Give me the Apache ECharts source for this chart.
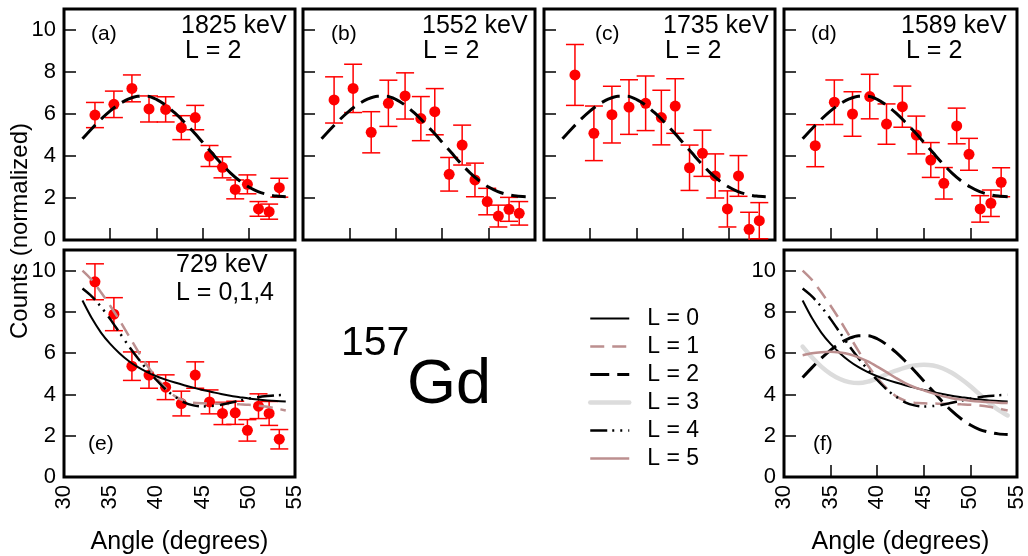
<!DOCTYPE html>
<html><head><meta charset="utf-8">
<script src="https://cdn.jsdelivr.net/npm/echarts@6/dist/echarts.min.js"></script>
<style>html,body{margin:0;padding:0;background:#fff}#c{width:1028px;height:556px}</style>
</head><body><div id="c"></div>
<script>
// ---- data ----
const angles = [33.35, 35.4, 37.35, 39.2, 41.0, 42.7, 44.2, 45.75, 47.15, 48.53, 49.85, 51.05, 52.2, 53.3];

const valsA = [5.95, 6.46, 7.22, 6.24, 6.22, 5.35, 5.83, 4.0, 3.46, 2.41, 2.65, 1.48, 1.35, 2.49];
const errsA = [0.6, 0.63, 0.64, 0.62, 0.6, 0.57, 0.58, 0.5, 0.5, 0.45, 0.45, 0.35, 0.36, 0.45];
const valsB = [6.67, 7.22, 5.13, 6.51, 6.86, 5.78, 6.11, 3.13, 4.52, 2.86, 1.83, 1.14, 1.46, 1.27];
const errsB = [1.1, 1.15, 0.98, 1.1, 1.1, 1.05, 1.1, 0.8, 0.95, 0.8, 0.63, 0.52, 0.57, 0.56];
const valsC = [7.86, 5.08, 5.97, 6.33, 6.51, 5.83, 6.38, 3.44, 4.13, 3.05, 1.48, 3.05, 0.51, 0.92];
const errsC = [1.45, 1.3, 1.35, 1.3, 1.3, 1.3, 1.3, 1.08, 1.1, 1.05, 0.86, 0.97, 0.81, 0.86];
const valsD = [4.49, 6.56, 6.0, 6.83, 5.52, 6.35, 5.0, 3.81, 2.7, 5.43, 4.08, 1.48, 1.75, 2.75];
const errsD = [1.0, 1.06, 1.06, 1.06, 0.96, 0.98, 0.9, 0.83, 0.75, 0.85, 0.76, 0.63, 0.63, 0.69];
const valsE = [9.46, 7.89, 5.37, 4.94, 4.35, 3.56, 4.94, 3.64, 3.08, 3.11, 2.26, 3.43, 3.08, 1.83];
const errsE = [0.87, 0.8, 0.69, 0.64, 0.6, 0.6, 0.64, 0.58, 0.54, 0.56, 0.52, 0.6, 0.58, 0.47];

// fitted angular-distribution curves, read at each degree
const fitAngles = [32, 33, 34, 35, 36, 37, 38, 39, 40, 41, 42, 43, 44, 45, 46, 47, 48, 49, 50, 51, 52, 53, 54];
const fitL0 = [8.55, 7.7, 7.0, 6.45, 6.0, 5.62, 5.32, 5.08, 4.88, 4.72, 4.58, 4.45, 4.33, 4.22, 4.12, 4.02, 3.94, 3.87, 3.8, 3.75, 3.71, 3.68, 3.66];
const fitL1 = [10.0, 9.55, 8.95, 8.3, 7.6, 6.85, 6.1, 5.4, 4.8, 4.3, 3.92, 3.7, 3.6, 3.57, 3.56, 3.55, 3.54, 3.52, 3.5, 3.46, 3.4, 3.32, 3.22];
const fitL2 = [4.82, 5.3, 5.75, 6.15, 6.48, 6.72, 6.85, 6.85, 6.7, 6.42, 6.05, 5.62, 5.15, 4.65, 4.15, 3.65, 3.2, 2.82, 2.52, 2.3, 2.17, 2.09, 2.06];
const fitL3 = [6.32, 5.8, 5.35, 5.0, 4.75, 4.6, 4.55, 4.62, 4.78, 4.98, 5.15, 5.3, 5.4, 5.44, 5.4, 5.27, 5.05, 4.75, 4.4, 4.0, 3.6, 3.25, 2.98];
const fitL4 = [9.13, 8.75, 8.25, 7.65, 7.0, 6.35, 5.75, 5.2, 4.7, 4.25, 3.9, 3.62, 3.47, 3.42, 3.44, 3.5, 3.6, 3.7, 3.8, 3.87, 3.92, 3.96, 3.98];
const fitL5 = [5.9, 6.0, 6.05, 6.07, 6.03, 5.95, 5.8, 5.6, 5.35, 5.08, 4.8, 4.55, 4.35, 4.2, 4.05, 3.92, 3.82, 3.75, 3.7, 3.66, 3.63, 3.6, 3.58];

const yTicks = [0, 2, 4, 6, 8, 10];
const xTicks = [30, 35, 40, 45, 50, 55];
const legendNames = ['L = 0', 'L = 1', 'L = 2', 'L = 3', 'L = 4', 'L = 5'];

// ---- layout & styles ----
const FONT = 'Liberation Sans, Arial, Helvetica, sans-serif';
const grids = [
  {left: 64, top: 9, width: 231, height: 231},
  {left: 303, top: 9, width: 232, height: 231},
  {left: 544, top: 9, width: 231, height: 231},
  {left: 784, top: 9, width: 233, height: 231},
  {left: 64, top: 250, width: 231, height: 230},
  {left: 784, top: 250, width: 233, height: 231}
].map(g => Object.assign({show: true, borderColor: '#000', borderWidth: 3, backgroundColor: 'transparent'}, g));

const ROSY = '#bc8f8f';
const curveStyle = {
  'L = 0': {color: '#000', width: 2, type: 'solid'},
  'L = 1': {color: ROSY, width: 2.5, type: [14, 8]},
  'L = 2': {color: '#000', width: 3, type: [19, 8]},
  'L = 3': {color: '#dcdcdc', width: 4.5, type: 'solid', cap: 'round'},
  'L = 4': {color: '#000', width: 2.5, type: [17, 5, 2, 6, 2, 6]},
  'L = 5': {color: ROSY, width: 2.5, type: 'solid'}
};
const curveData = {'L = 0': fitL0, 'L = 1': fitL1, 'L = 2': fitL2, 'L = 3': fitL3, 'L = 4': fitL4, 'L = 5': fitL5};

function xAxisFor(i, labels, ticks) {
  return {
    type: 'value', gridIndex: i, min: xTicks[0], max: xTicks[xTicks.length - 1], interval: 5,
    axisLine: {show: false}, splitLine: {show: false},
    axisTick: {show: ticks, inside: true, length: 12, lineStyle: {color: '#000', width: 1.5}},
    axisLabel: {show: labels, rotate: 90, margin: 8, fontSize: 22, color: '#000', fontFamily: FONT},
    name: labels ? 'Angle (degrees)' : '', nameLocation: 'middle', nameGap: 53,
    nameTextStyle: {fontSize: 25, color: '#000', fontFamily: FONT}
  };
}
function yAxisFor(i, labels) {
  return {
    type: 'value', gridIndex: i, min: 0, max: 11, interval: 2,
    axisLine: {show: false}, splitLine: {show: false},
    axisTick: {show: true, inside: true, length: 12, lineStyle: {color: '#000', width: 1.5}},
    axisLabel: {show: labels, margin: 8, fontSize: 22, color: '#000', fontFamily: FONT,
      formatter: v => (yTicks.indexOf(v) >= 0 ? String(v) : '')}
  };
}

const xAxes = [0, 1, 2, 3].map(i => xAxisFor(i, false, true)).concat([xAxisFor(4, true, false), xAxisFor(5, true, true)]);
const yAxes = [yAxisFor(0, true), yAxisFor(1, false), yAxisFor(2, false), yAxisFor(3, false), yAxisFor(4, true), yAxisFor(5, true)];

function errRender(params, api) {
  const x = api.value(0), y = api.value(1), e = api.value(2);
  const t = api.coord([x, y + e]), b = api.coord([x, y - e]);
  const hw = 9, st = {stroke: '#ff0000', lineWidth: 1.5};
  return {type: 'group', children: [
    {type: 'line', shape: {x1: t[0], y1: t[1], x2: b[0], y2: b[1]}, style: st},
    {type: 'line', shape: {x1: t[0] - hw, y1: t[1], x2: t[0] + hw, y2: t[1]}, style: st},
    {type: 'line', shape: {x1: b[0] - hw, y1: b[1], x2: b[0] + hw, y2: b[1]}, style: st}
  ]};
}

const series = [];
function addPoints(i, vals, errs) {
  series.push({type: 'custom', xAxisIndex: i, yAxisIndex: i, clip: true, z: 3,
    renderItem: errRender, encode: {x: 0, y: 1},
    data: angles.map((a, k) => [a, vals[k], errs[k]])});
  series.push({type: 'scatter', xAxisIndex: i, yAxisIndex: i, z: 4, symbol: 'circle', symbolSize: 11,
    itemStyle: {color: '#ff0000', opacity: 1}, data: angles.map((a, k) => [a, vals[k]])});
}
function addCurve(i, name) {
  const s = curveStyle[name];
  series.push({type: 'line', name: name, xAxisIndex: i, yAxisIndex: i, smooth: 0.3, symbol: 'none',
    z: name === 'L = 3' ? 2 : 5, clip: true,
    lineStyle: {color: s.color, width: s.width, type: s.type, cap: s.cap || 'butt'},
    itemStyle: {color: s.color},
    data: fitAngles.map((a, k) => [a, curveData[name][k]])});
}
const panelData = [[valsA, errsA], [valsB, errsB], [valsC, errsC], [valsD, errsD]];
panelData.forEach((p, i) => { addPoints(i, p[0], p[1]); addCurve(i, 'L = 2'); });
addPoints(4, valsE, errsE);
['L = 0', 'L = 1', 'L = 4'].forEach(n => addCurve(4, n));
['L = 3', 'L = 0', 'L = 1', 'L = 2', 'L = 4', 'L = 5'].forEach(n => addCurve(5, n));

function txt(text, x, y, size, extra) {
  return Object.assign({type: 'text', x: x, y: y, z: 10,
    style: {text: text, fontSize: size, fontFamily: FONT, fill: '#000', align: 'left', verticalAlign: 'middle'}}, extra || {});
}
const panelTexts = [
  ['(a)', 91, 34], ['1825 keV', 181, 26], ['L = 2', 185, 51],
  ['(b)', 331, 34], ['1552 keV', 422, 26], ['L = 2', 423, 51],
  ['(c)', 595, 34], ['1735 keV', 663, 26], ['L = 2', 665, 51],
  ['(d)', 811, 34], ['1589 keV', 901, 26], ['L = 2', 906, 51],
  ['729 keV', 176, 265], ['L = 0,1,4', 176, 293], ['(e)', 88, 444],
  ['(f)', 813, 444]
];
const graphics = panelTexts.map(t => txt(t[0], t[1], t[2], t[0][0] === '(' ? 21 : 25));
graphics.push(txt('157', 341, 344, 41));
graphics.push(txt('Gd', 407, 386, 63));
graphics.push({type: 'text', x: 20, y: 231, rotation: Math.PI / 2, z: 10,
  style: {text: 'Counts (normalized)', fontSize: 24, fontFamily: FONT, fill: '#000', align: 'center', verticalAlign: 'middle'}});

const chart = echarts.init(document.getElementById('c'), null, {renderer: 'canvas'});
chart.setOption({
  animation: false,
  backgroundColor: '#fff',
  textStyle: {fontFamily: FONT},
  grid: grids,
  xAxis: xAxes,
  yAxis: yAxes,
  legend: {
    data: legendNames, orient: 'vertical', left: 583, top: 302,
    itemWidth: 39, itemHeight: 14, itemGap: 5, selectedMode: false,
    itemStyle: {color: 'transparent', borderColor: 'transparent', borderWidth: 0, opacity: 0},
    lineStyle: {width: 'inherit'},
    textStyle: {fontSize: 23, lineHeight: 22, color: '#000', fontFamily: FONT, padding: [0, 0, 0, 13]}
  },
  graphic: graphics,
  series: series
});
</script></body></html>
